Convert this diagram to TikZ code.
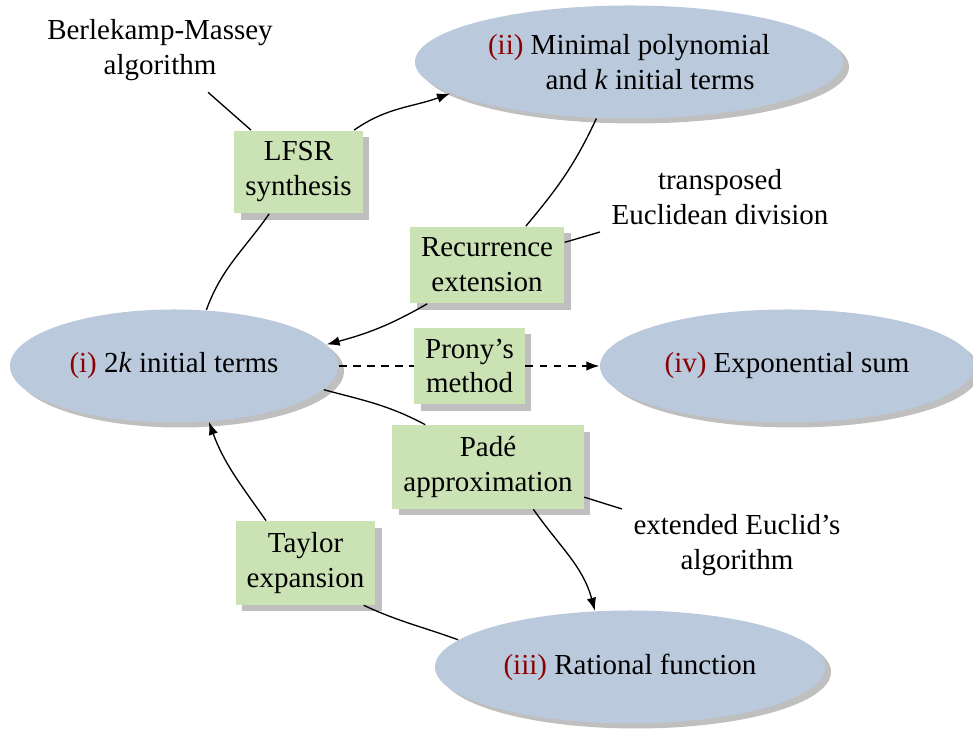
\documentclass[tikz,border=0pt]{standalone}
\usepackage{fontspec}
\setmainfont{Liberation Serif}
\usetikzlibrary{shapes.geometric,shadows,arrows.meta}

\definecolor{ellblue}{RGB}{187,201,220}
\definecolor{boxgreen}{RGB}{203,226,181}
\definecolor{numred}{RGB}{139,0,0}

\tikzset{
  every node/.style={font=\fontsize{16.5}{19.9}\selectfont, align=center},
  stage/.style={ellipse, fill=ellblue, minimum height=2.26cm, inner sep=0pt,
    drop shadow={shadow xshift=0.12cm, shadow yshift=-0.1cm, fill=black!25, opacity=1}},
  algo/.style={rectangle, fill=boxgreen, inner sep=0.22cm,
    drop shadow={shadow xshift=0.13cm, shadow yshift=-0.13cm, fill=black!25, opacity=1}},
  remark/.style={inner sep=0.22cm},
  arr/.style={-{Latex[length=0.26cm,width=0.19cm]}},
}

\newcommand{\num}[1]{\textcolor{numred}{#1}}

\begin{document}
\begin{tikzpicture}[line width=0.75pt]
  \useasboundingbox (0,0) rectangle (19.46,14.62);

  %% the four objects
  \node[stage, minimum width=6.56cm] (i) at (3.48,7.30) {\num{(i)} 2\textit{k} initial terms};
  \node[stage, minimum width=8.56cm] (ii) at (12.58,13.38) {\num{(ii)} Minimal polynomial\\ \hspace*{0.84cm}and \textit{k} initial terms};
  \node[stage, minimum width=7.80cm] (iii) at (12.60,1.28) {\num{(iii)} Rational function};
  \node[stage, minimum width=7.48cm] (iv) at (15.74,7.30) {\num{(iv)} Exponential sum};

  %% the methods
  \node[algo] (lfsr) at (5.97,11.18) {LFSR\\ synthesis};
  \node[algo] (rec) at (9.74,9.32) {Recurrence\\ extension};
  \node[algo] (prony) at (9.39,7.30) {Prony's\\ method};
  \node[algo] (pade) at (9.76,5.28) {Padé\\ approximation};
  \node[algo] (taylor) at (6.11,3.36) {Taylor\\ expansion};

  %% remarks
  \node[remark] (bm) at (3.20,13.62) {Berlekamp-Massey\\ algorithm};
  \node[remark] (trans) at (14.40,10.68) {transposed\\ Euclidean division};
  \node[remark] (euclid) at (14.74,3.72) {extended Euclid's\\ algorithm};

  %% i -> ii
  \draw (i.60) to[out=70,in=235] (lfsr.235);
  \draw[arr] (lfsr.37) to[out=35,in=200] (ii.190);

  %% ii -> i
  \draw (ii.240) to[out=245,in=50] (rec.45);
  \draw[arr] (rec.213) to[out=210,in=15] (i.8);

  %% i -> iv
  \draw[dash pattern=on 4.5pt off 3.5pt] (i) -- (prony);
  \draw[arr, dash pattern=on 4.5pt off 3.5pt] (prony) -- (iv);

  %% i -> iii
  \draw (i.-9) to[out=-15,in=152] (pade.146);
  \draw[arr] (pade.-43) to[out=-55,in=105] (iii.122);

  %% iii -> i
  \draw (iii.171) to[out=160,in=-25] (taylor.-36);
  \draw[arr] (taylor.133) to[out=125,in=-70] (i.-58);

  %% remark lines
  \draw (bm) -- (lfsr);
  \draw (rec) -- (trans);
  \draw (pade) -- (euclid);

\end{tikzpicture}
\end{document}
